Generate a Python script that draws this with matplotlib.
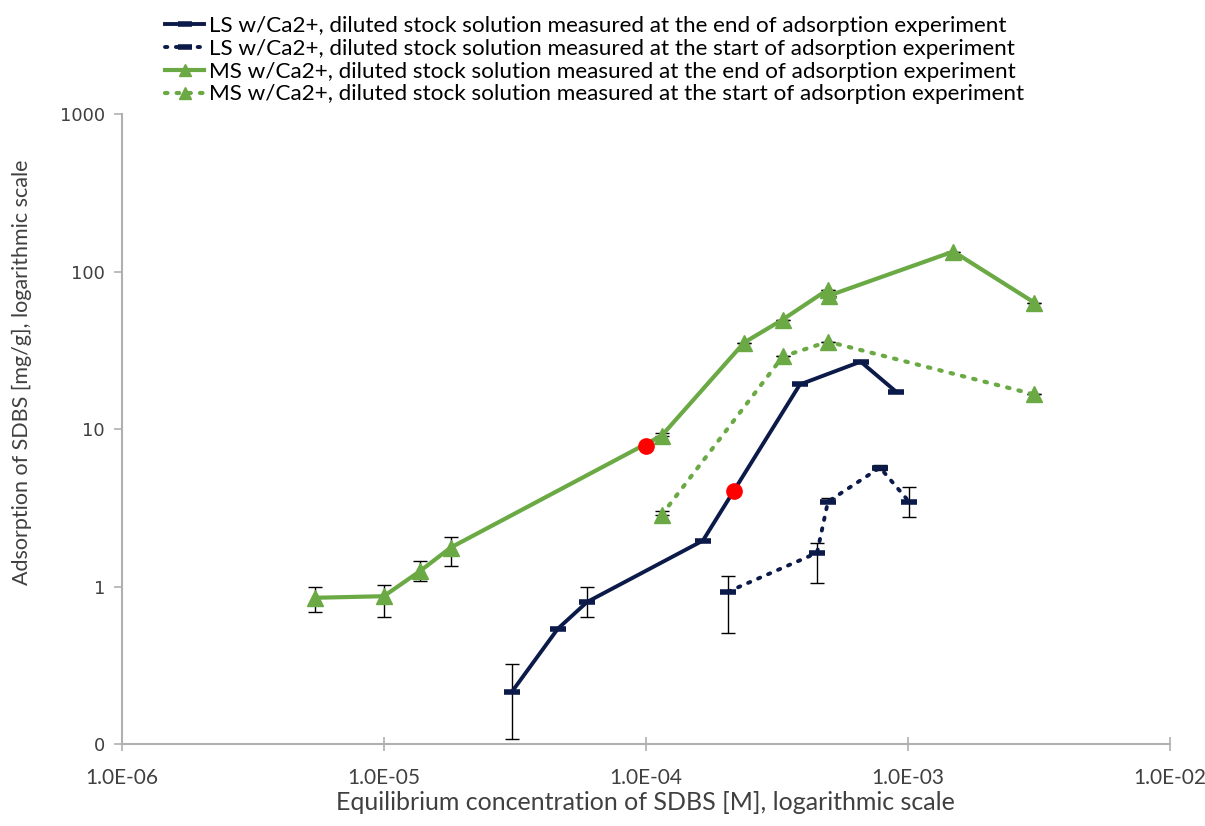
import matplotlib

matplotlib.use("Agg")
import matplotlib.pyplot as plt
from matplotlib.ticker import FixedLocator, FixedFormatter, NullLocator

# MS w/Ca2+, measured at the end
ms_end_x = [5.46e-6, 1.0e-5, 1.37e-5, 1.80e-5, 1.15e-4, 2.37e-4, 3.33e-4, 4.95e-4, 5.0e-4, 1.49e-3, 3.03e-3]
ms_end_y = [0.85, 0.87, 1.25, 1.77, 9.1, 35.4, 49.6, 76.9, 70.4, 134, 63.6]
ms_end_lo = [0.69, 0.645, 1.08, 1.36, 9.1, 35.4, 49.6, 76.9, 70.4, 134, 63.6]
ms_end_hi = [1.0, 1.03, 1.46, 2.08, 9.5, 35.4, 49.6, 76.9, 70.4, 134, 63.6]

# MS w/Ca2+, measured at the start
ms_start_x = [1.15e-4, 3.33e-4, 4.95e-4, 3.03e-3]
ms_start_y = [2.86, 28.9, 35.9, 16.6]
ms_start_lo = [2.86, 28.9, 35.9, 16.6]
ms_start_hi = [3.0, 28.9, 35.9, 16.6]

# LS w/Ca2+, measured at the end
ls_end_x = [3.08e-5, 4.61e-5, 5.97e-5, 1.65e-4, 3.87e-4, 6.6e-4, 9.0e-4]
ls_end_y = [0.215, 0.54, 0.80, 1.96, 19.2, 26.8, 17.3]
ls_end_lo = [0.108, 0.54, 0.645, 1.96, 19.2, 26.8, 17.3]
ls_end_hi = [0.324, 0.54, 0.99, 1.96, 19.2, 26.8, 17.3]

# LS w/Ca2+, measured at the start
ls_start_x = [2.06e-4, 4.5e-4, 4.95e-4, 7.82e-4, 1.01e-3]
ls_start_y = [0.93, 1.64, 3.46, 5.7, 3.46]
ls_start_lo = [0.51, 1.06, 3.46, 5.5, 2.78]
ls_start_hi = [1.17, 1.90, 3.67, 5.9, 4.31]

# highlighted points
red_x = [1.0e-4, 2.17e-4]
red_y = [7.86, 4.07]

legend_labels = [
    "LS w/Ca2+, diluted stock solution measured at the end of adsorption experiment",
    "LS w/Ca2+, diluted stock solution measured at the start of adsorption experiment",
    "MS w/Ca2+, diluted stock solution measured at the end of adsorption experiment",
    "MS w/Ca2+, diluted stock solution measured at the start of adsorption experiment",
]
x_ticks = [1e-6, 1e-5, 1e-4, 1e-3, 1e-2]
x_ticklabels = ["1.0E-06", "1.0E-05", "1.0E-04", "1.0E-03", "1.0E-02"]
y_ticks = [0.1, 1, 10, 100, 1000]
y_ticklabels = ["0", "1", "10", "100", "1000"]

GREEN = "#6aa944"
NAVY = "#0c1a4a"
GRAY = "#b0b0b0"
NARROW = ["Lato", "DejaVu Sans"]


def err(y, lo, hi):
    return [[a - b for a, b in zip(y, lo)], [b - a for a, b in zip(y, hi)]]


fig = plt.figure(figsize=(12.05, 8.26), dpi=100)
ax = fig.add_axes([0.101, 0.099, 0.870, 0.763])

ebkw = dict(ecolor="black", elinewidth=1, capsize=5, capthick=1, zorder=2)

ax.errorbar(ls_end_x, ls_end_y, yerr=err(ls_end_y, ls_end_lo, ls_end_hi), fmt="none", **ebkw)
ax.errorbar(ls_start_x, ls_start_y, yerr=err(ls_start_y, ls_start_lo, ls_start_hi), fmt="none", **ebkw)
ax.errorbar(ms_end_x, ms_end_y, yerr=err(ms_end_y, ms_end_lo, ms_end_hi), fmt="none", **ebkw)
ax.errorbar(ms_start_x, ms_start_y, yerr=err(ms_start_y, ms_start_lo, ms_start_hi), fmt="none", **ebkw)

h1, = ax.plot(ls_end_x, ls_end_y, color=NAVY, lw=2.8, marker="_", ms=12, mew=4, zorder=3)
h2, = ax.plot(ls_start_x, ls_start_y, color=NAVY, lw=2.8, ls=(0, (0.6, 2.2)), dash_capstyle="round",
              marker="_", ms=12, mew=4, zorder=3)
h3, = ax.plot(ms_end_x, ms_end_y, color=GREEN, lw=3, marker="^", ms=11, zorder=3)
h4, = ax.plot(ms_start_x, ms_start_y, color=GREEN, lw=3, ls=(0, (0.6, 2.2)), dash_capstyle="round",
              marker="^", ms=11, zorder=3)
ax.plot(red_x, red_y, ls="none", marker="o", ms=11, color="#ff0000", mec="#ff0000", zorder=4)

ax.set_xscale("log")
ax.set_yscale("log")
ax.set_xlim(1e-6, 1e-2)
ax.set_ylim(0.1, 1000)
ax.xaxis.set_major_locator(FixedLocator(x_ticks))
ax.xaxis.set_major_formatter(FixedFormatter(x_ticklabels))
ax.xaxis.set_minor_locator(NullLocator())
ax.yaxis.set_major_locator(FixedLocator(y_ticks))
ax.yaxis.set_major_formatter(FixedFormatter(y_ticklabels))
ax.yaxis.set_minor_locator(NullLocator())

for s in ("top", "right"):
    ax.spines[s].set_visible(False)
for s in ("left", "bottom"):
    ax.spines[s].set_color(GRAY)
    ax.spines[s].set_linewidth(1.5)
ax.tick_params(axis="x", direction="inout", length=10, width=1.2, color=GRAY, pad=12)
ax.tick_params(axis="y", direction="out", length=6, width=1.2, color=GRAY, pad=6)
for lab in ax.get_xticklabels():
    lab.set_family(NARROW)
    lab.set_fontsize(15)
    lab.set_color("#404040")
for lab in ax.get_yticklabels():
    lab.set_family("DejaVu Sans")
    lab.set_fontsize(13)
    lab.set_color("#404040")

ax.set_xlabel("Equilibrium concentration of SDBS [M], logarithmic scale", family=NARROW,
              fontsize=18, color="#404040", va="center")
ax.xaxis.set_label_coords(0.5, -0.092)
ax.set_ylabel("Adsorption of SDBS [mg/g], logarithmic scale", family=NARROW,
              fontsize=15.5, color="#404040", va="center")
ax.yaxis.set_label_coords(-0.0954, 0.59)

fig.legend([h1, h2, h3, h4], legend_labels, loc="upper left", bbox_to_anchor=(0.137, 0.981),
           frameon=False, prop={"family": NARROW, "size": 16.2}, handlelength=1.75,
           handletextpad=0.2, labelspacing=0.13, borderpad=0, borderaxespad=0, markerscale=0.85)

fig.savefig("out.png", dpi=100)
